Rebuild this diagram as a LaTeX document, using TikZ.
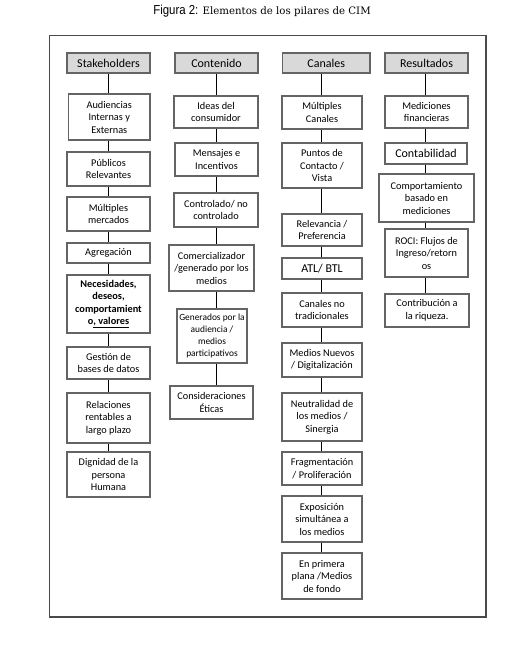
\documentclass[tikz,border=0pt]{standalone}
\usepackage{fontspec}
\setmainfont{Carlito}
\newfontfamily\titleserif{DejaVu Serif}
\newfontfamily\titlesans[FakeStretch=0.88]{Liberation Sans}
\definecolor{boxgray}{HTML}{646464}
\definecolor{framegray}{HTML}{4A4A4A}
\definecolor{headgray}{HTML}{D9D9D9}
\definecolor{txt}{HTML}{000000}
\newcommand\cimbox[7]{%
  \node[#1, minimum width={(#5-#3)*1pt}, minimum height={(#6-#4)*1pt}]
    (#2) at ({(#3+#5)/2},{(#4+#6)/2}) {#7};}
\begin{document}
\begin{tikzpicture}[x=1pt,y=-1pt,
  box/.style={draw=boxgray, line width=1.4pt, align=center, inner sep=0pt,
    font=\fontsize{10.3}{12.5}\selectfont, text=txt},
  bigbox/.style={box, font=\fontsize{12}{14}\selectfont},
  smallbox/.style={box, font=\fontsize{9.4}{11.8}\selectfont},
  head/.style={box, fill=headgray, font=\fontsize{12}{14}\selectfont},
  link/.style={black, line width=0.9pt}]
\useasboundingbox (0,0) rectangle (525,666);
\node[text=txt] (title) at (262,11) {\titlesans\fontsize{13}{15}\selectfont Figura 2: \titleserif\fontsize{10.2}{12}\selectfont Elementos de los pilares de CIM};
\draw[framegray, line width=1.5pt] (49.5,35.5) rectangle (486,617);
% column x coordinates
\coordinate (c1) at (108.8,0);
\coordinate (c2) at (216.7,0);
\coordinate (c3) at (321,0);
\coordinate (c4) at (425.5,0);
% column 1
\cimbox{head}{h1}{67}{53}{150}{73}{Stakeholders}
\cimbox{box}{a1}{68.5}{94}{150}{140}{Audiencias\\Internas y\\Externas}
\cimbox{box}{a2}{67}{152}{150}{186}{Públicos\\Relevantes}
\cimbox{box}{a3}{67}{197}{150}{231}{Múltiples\\mercados}
\cimbox{box}{a4}{67}{243}{150}{263}{Agregación}
\cimbox{box}{a5}{67}{275}{150}{333}{\bfseries Necesidades,\\\bfseries deseos,\\\bfseries comportamient\\\bfseries o\underline{, valores}}
\cimbox{box}{a6}{67}{347}{150}{379}{Gestión de\\bases de datos}
\cimbox{box}{a7}{67}{393}{150}{443}{Relaciones\\rentables a\\largo plazo}
\cimbox{box}{a8}{67}{452}{150}{497}{Dignidad de la\\persona\\Humana}
% column 2
\cimbox{head}{h2}{175}{53}{258}{73}{Contenido}
\cimbox{box}{b1}{174}{96}{258}{128}{Ideas del\\consumidor}
\cimbox{box}{b2}{175}{143}{258}{176}{Mensajes e\\Incentivos}
\cimbox{box}{b3}{174}{193}{258}{227}{Controlado/ no\\controlado}
\cimbox{box}{b4}{169}{245}{254}{291}{Comercializador\\/generado por los\\medios}
\cimbox{smallbox}{b5}{177}{309}{247}{363}{Generados por la\\audiencia /\\medios\\participativos}
\cimbox{box}{b6}{170}{386}{253}{419}{Consideraciones\\Éticas}
% column 3
\cimbox{head}{h3}{282.5}{53}{370}{73}{Canales}
\cimbox{box}{d1}{282}{96}{362}{129}{Múltiples\\Canales}
\cimbox{box}{d2}{282}{143}{362}{188}{Puntos de\\Contacto /\\Vista}
\cimbox{box}{d3}{282}{214}{362}{246}{Relevancia /\\Preferencia}
\cimbox{bigbox}{d4}{282}{258}{362}{279}{ATL/ BTL}
\cimbox{box}{d5}{282}{293}{362}{327}{Canales no\\tradicionales}
\cimbox{box}{d6}{282}{343}{362}{377}{Medios Nuevos\\/ Digitalización}
\cimbox{box}{d7}{282}{393}{362}{441}{Neutralidad de\\los medios /\\Sinergia}
\cimbox{box}{d8}{282}{452}{362}{485}{Fragmentación\\/ Proliferación}
\cimbox{box}{d9}{282}{496}{362}{542}{Exposición\\simultánea a\\los medios}
\cimbox{box}{d10}{282}{553}{362}{599}{En primera\\plana /Medios\\de fondo}
% column 4
\cimbox{head}{h4}{385}{53}{468}{73}{Resultados}
\cimbox{box}{e1}{385}{96}{468}{128}{Mediciones\\financieras}
\cimbox{bigbox}{e2}{385}{143}{467}{164}{Contabilidad}
\cimbox{box}{e3}{379}{174}{474}{222}{Comportamiento\\basado en\\mediciones}
\cimbox{box}{e4}{385}{229}{468}{277}{ROCI: Flujos de\\Ingreso/retorn\\os}
\cimbox{box}{e5}{385}{294}{469}{327}{Contribución a\\la riqueza.}
% connectors
\foreach \a/\b in {h1/a1,a1/a2,a2/a3,a3/a4,a4/a5,a5/a6,a6/a7,a7/a8}
  \draw[link] (\a.south -| c1) -- (\b.north -| c1);
\foreach \a/\b in {h2/b1,b1/b2,b2/b3,b3/b4,b4/b5,b5/b6}
  \draw[link] (\a.south -| c2) -- (\b.north -| c2);
\foreach \a/\b in {h3/d1,d1/d2,d2/d3,d3/d4,d4/d5,d5/d6,d6/d7,d7/d8,d8/d9,d9/d10}
  \draw[link] (\a.south -| c3) -- (\b.north -| c3);
\foreach \a/\b in {h4/e1,e1/e2,e2/e3,e3/e4,e4/e5}
  \draw[link] (\a.south -| c4) -- (\b.north -| c4);
\end{tikzpicture}
\end{document}
